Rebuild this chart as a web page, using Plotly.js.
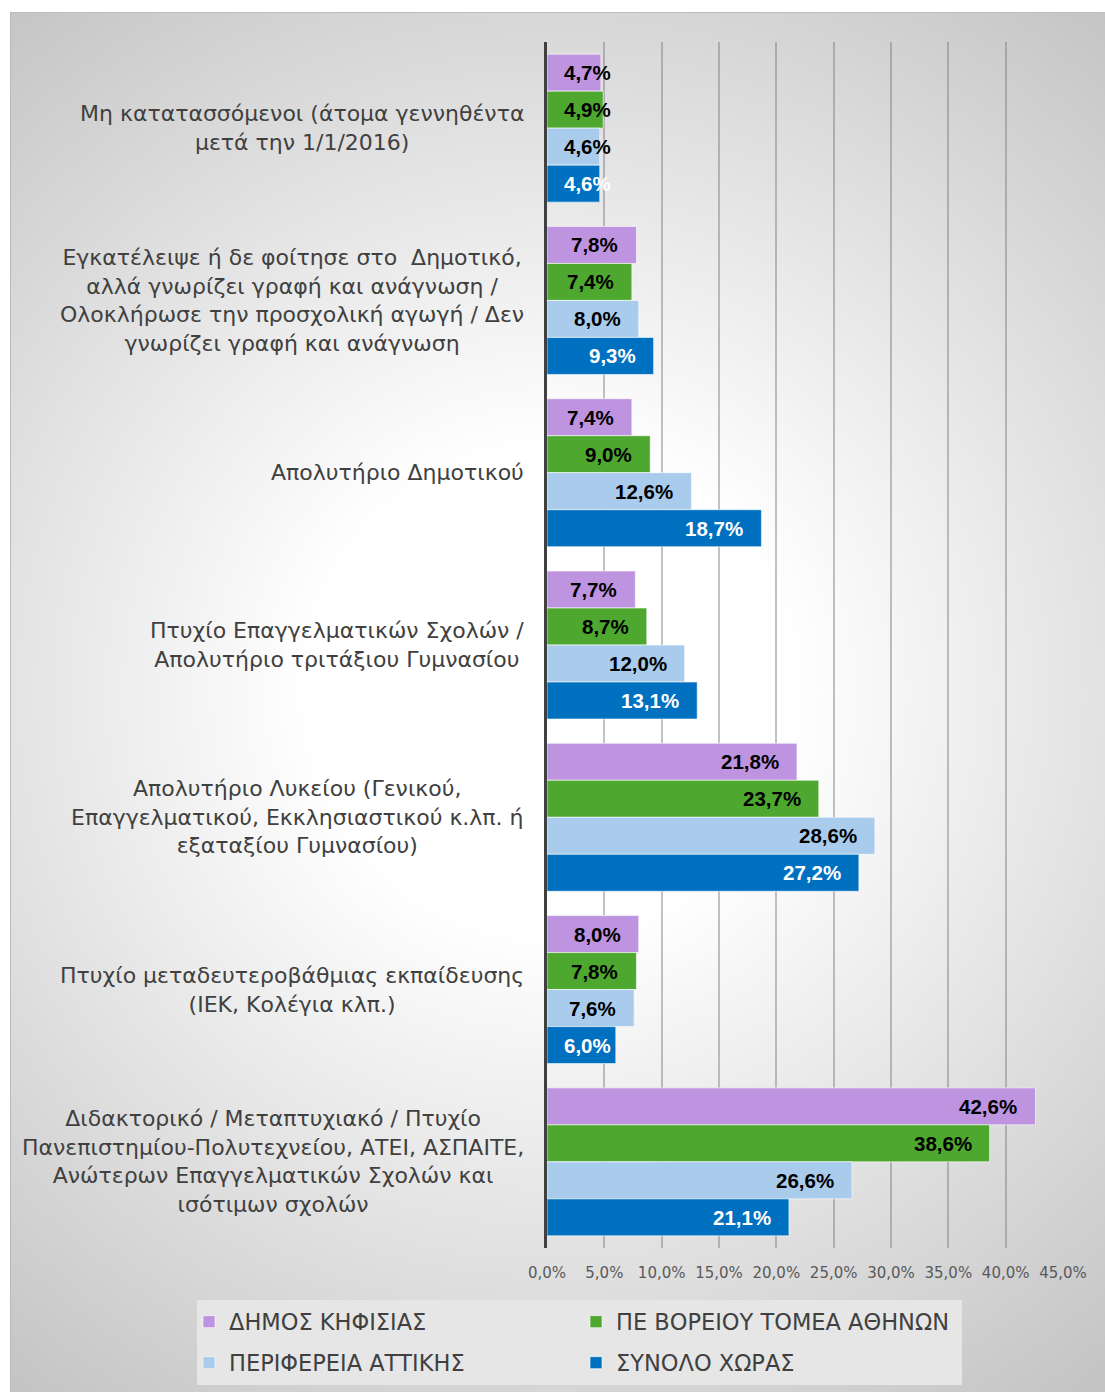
<!DOCTYPE html>
<html>
<head>
<meta charset="utf-8">
<script src="https://cdn.plot.ly/plotly-3.0.1.min.js"></script>
<style>
  html, body { margin: 0; padding: 0; background: #ffffff; }
  #bg {
    position: absolute; left: 10px; top: 12px; width: 1094px; height: 1379px;
    border-left: 1px solid #b9b9b9; border-top: 1px solid #bdbdbd;
    background: radial-gradient(circle 880px at 540px 678px, #ffffff 0px, #ffffff 240px, #c4c4c4 880px);
  }
  #chart { position: absolute; left: 0; top: 0; width: 1105px; height: 1392px; }
</style>
</head>
<body>
<div id="bg"></div>
<div id="chart"></div>
<script>
const categories = [
  "Μη κατατασσόμενοι (άτομα γεννηθέντα<br>μετά την 1/1/2016)",
  "Εγκατέλειψε ή δε φοίτησε στο  Δημοτικό,<br>αλλά γνωρίζει γραφή και ανάγνωση /<br>Ολοκλήρωσε την προσχολική αγωγή / Δεν<br>γνωρίζει γραφή και ανάγνωση",
  "Απολυτήριο Δημοτικού",
  "Πτυχίο Επαγγελματικών Σχολών /<br>Απολυτήριο τριτάξιου Γυμνασίου",
  "Απολυτήριο Λυκείου (Γενικού,<br>Επαγγελματικού, Εκκλησιαστικού κ.λπ. ή<br>εξαταξίου Γυμνασίου)",
  "Πτυχίο μεταδευτεροβάθμιας εκπαίδευσης<br>(ΙΕΚ, Κολέγια κλπ.)",
  "Διδακτορικό / Μεταπτυχιακό / Πτυχίο<br>Πανεπιστημίου-Πολυτεχνείου, ΑΤΕΙ, ΑΣΠΑΙΤΕ,<br>Ανώτερων Επαγγελματικών Σχολών και<br>ισότιμων σχολών"
];
const seriesNames = ["ΔΗΜΟΣ ΚΗΦΙΣΙΑΣ", "ΠΕ ΒΟΡΕΙΟΥ ΤΟΜΕΑ ΑΘΗΝΩΝ", "ΠΕΡΙΦΕΡΕΙΑ ΑΤΤΙΚΗΣ", "ΣΥΝΟΛΟ ΧΩΡΑΣ"];
const dimosKifisias   = [4.7, 7.8, 7.4, 7.7, 21.8, 8.0, 42.6];
const peVoreiouTomea  = [4.9, 7.4, 9.0, 8.7, 23.7, 7.8, 38.6];
const perifereiaAttikis = [4.6, 8.0, 12.6, 12.0, 28.6, 7.6, 26.6];
const synoloXoras     = [4.6, 9.3, 18.7, 13.1, 27.2, 6.0, 21.1];
const xTickVals = [0, 5, 10, 15, 20, 25, 30, 35, 40, 45];
const xTickText = xTickVals.map(v => v.toFixed(1).replace(".", ",") + "%");

const seriesValues = [dimosKifisias, peVoreiouTomea, perifereiaAttikis, synoloXoras];
const colors = ["#BE93E0", "#4EA72E", "#A9CBEC", "#0070C0"];
const labelColors = ["#000000", "#000000", "#000000", "#ffffff"];
const legendIds = ["legend", "legend2", "legend3", "legend4"];
const BARGAP = 0.141;
const catIdx = categories.map((c, i) => i);
const fontMain = "DejaVu Sans, Noto Sans, sans-serif";
const fontLabel = "Liberation Sans, Arial, sans-serif";

const traces = seriesValues.map((vals, s) => ({
  type: "bar",
  orientation: "h",
  name: seriesNames[s],
  x: vals,
  y: catIdx,
  marker: { color: colors[s], line: { color: "rgba(255,255,255,0.6)", width: 1 } },
  legend: legendIds[s],
  hoverinfo: "x+name"
}));

const annotations = [];
// category labels
categories.forEach((c, i) => {
  annotations.push({
    text: c, xref: "paper", yref: "y", x: 0, y: i, xanchor: "right", yanchor: "middle",
    xshift: -21, align: "center", showarrow: false,
    font: { family: fontMain, size: 22, color: "#404040" }
  });
});
// data labels
const nS = seriesValues.length;
const slot = (1 - BARGAP) / nS;
seriesValues.forEach((vals, s) => {
  vals.forEach((v, i) => {
    const small = v < 7;
    annotations.push({
      text: "<b>" + v.toFixed(1).replace(".", ",") + "%</b>",
      xref: "x", yref: "y",
      x: small ? 0 : v,
      y: i - (1 - BARGAP) / 2 + slot * (s + 0.5),
      xanchor: small ? "left" : "right", yanchor: "middle",
      xshift: small ? 15 : -16,
      showarrow: false,
      font: { family: fontLabel, size: 20.5, color: labelColors[s] }
    });
  });
});

function legendAt(px, py) {
  return {
    orientation: "h", xref: "container", yref: "container",
    x: px / 1105, xanchor: "left", y: 1 - py / 1392, yanchor: "middle",
    bgcolor: "rgba(0,0,0,0)", borderwidth: 0,
    font: { family: fontMain, size: 22.5, color: "#404040" }
  };
}

const layout = {
  width: 1105, height: 1392,
  paper_bgcolor: "rgba(0,0,0,0)", plot_bgcolor: "rgba(0,0,0,0)",
  margin: { l: 547, r: 42, t: 42, b: 144 },
  barmode: "group", bargap: BARGAP, bargroupgap: 0,
  separators: ",.",
  showlegend: true,
  legend: legendAt(189, 1322),
  legend2: legendAt(576, 1322),
  legend3: legendAt(189, 1363),
  legend4: legendAt(576, 1363),
  xaxis: {
    range: [0, 45], tickmode: "array", tickvals: xTickVals, ticktext: xTickText,
    showgrid: true, gridcolor: "rgba(120,120,120,0.45)", gridwidth: 2,
    zeroline: false, showline: false, ticks: "",
    ticklabelstandoff: 14,
    tickfont: { family: fontMain, size: 15, color: "#595959" }
  },
  yaxis: {
    range: [categories.length - 0.5, -0.5], showticklabels: false, showgrid: false,
    zeroline: false, showline: true, linecolor: "#404040", linewidth: 3, ticks: ""
  },
  shapes: [{
    type: "rect", xref: "paper", yref: "paper", layer: "below",
    x0: (197 - 547) / 516, x1: (962 - 547) / 516,
    y0: (1248 - 1385) / 1206, y1: (1248 - 1300) / 1206,
    fillcolor: "#e6e6e6", line: { width: 0 }
  }],
  annotations: annotations
};

Plotly.newPlot("chart", traces, layout, { displayModeBar: false, staticPlot: true });
</script>
</body>
</html>
